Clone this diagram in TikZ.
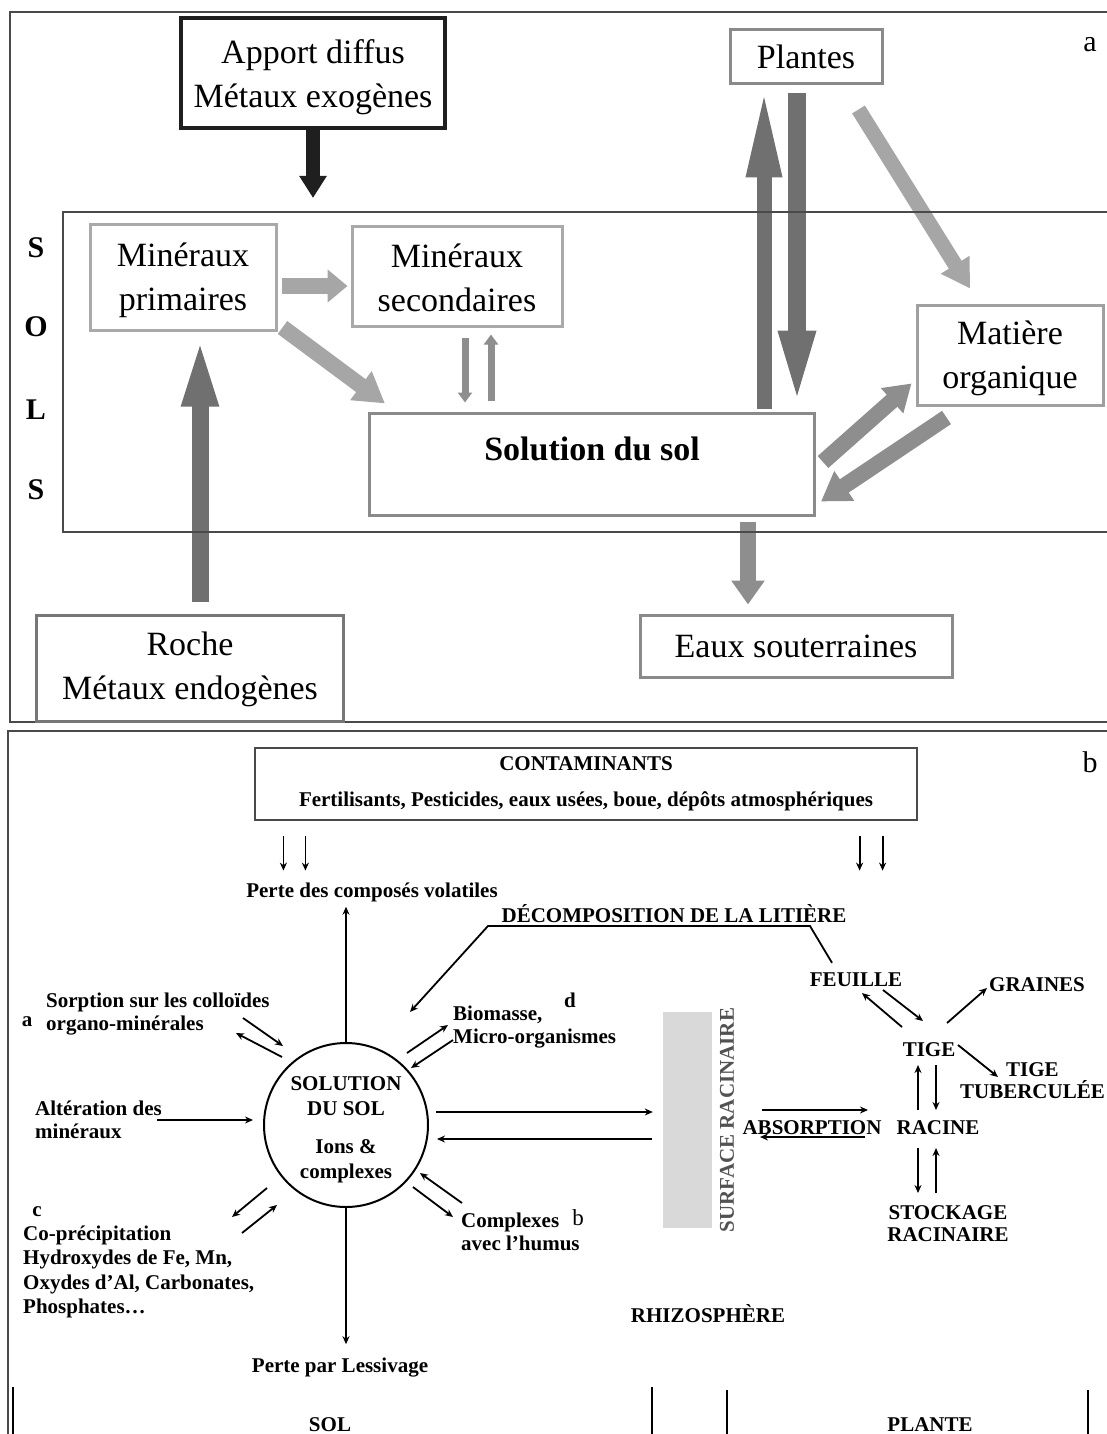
\documentclass[tikz,border=0pt]{standalone}
\usepackage{fontspec}
\setmainfont{Liberation Serif}
\usetikzlibrary{arrows.meta,calc}

\definecolor{lightarr}{HTML}{A6A6A6}
\definecolor{midarr}{HTML}{8E8E8E}
\definecolor{darkarr}{HTML}{707070}
\definecolor{framegray}{HTML}{4A4A4A}
\definecolor{barfill}{HTML}{D9D9D9}
\definecolor{edgelight}{HTML}{A9A9A9}
\definecolor{edgemat}{HTML}{A0A0A0}
\definecolor{edgemid}{HTML}{8A8A8A}
\definecolor{edgedark}{HTML}{777777}

\newcommand{\topgap}[1]{\rule{0pt}{#1}}

\tikzset{
  boxa/.style={draw=#1, line width=3pt, align=center, inner sep=0pt,
    font=\fontsize{34}{44}\selectfont},
  barrow/.style n args={4}{color=#1, line width=#2, -{Triangle[length=#3,width=#4]}},
  lbl/.style={font=\fontsize{21}{23.5}\selectfont\bfseries, inner sep=1pt},
  lblleft/.style={lbl, align=left, anchor=west},
  tarrow/.style={line width=1.8pt, -{Stealth[length=8pt,width=7pt]}},
  tag/.style={font=\fontsize{30}{30}\selectfont, inner sep=0pt}
}

\begin{document}
\begin{tikzpicture}[x=1pt,y=-1pt]
\useasboundingbox (0,0) rectangle (1107,1434);
\clip (0,0) rectangle (1107,1434);

% ---- a : sols
\draw[framegray, line width=1.5pt] (10,12) rectangle (1130,722);
\node[tag] (tagA) at (1090,45) {a};
\foreach \ch/\yy [count=\i] in {S/248,O/327,L/410,S/490}
  \node[tag, font=\fontsize{30}{30}\selectfont\bfseries] (sols\i) at (36,\yy) {\ch};

\node[boxa=black!88, line width=3.5pt, minimum width=264pt, minimum height=110pt] (apport) at (313,73) {\topgap{33pt}Apport diffus\\Métaux exogènes};
\node[boxa=edgelight, minimum width=186pt, minimum height=106pt] (prim) at (183,277) {\topgap{31pt}Minéraux\\primaires};
\node[boxa=edgelight, minimum width=210pt, minimum height=100pt] (sec) at (457,276) {\topgap{27pt}Minéraux\\secondaires};
\node[boxa=edgemid, minimum width=445pt, minimum height=102pt,
  font=\fontsize{34}{34}\selectfont\bfseries, text height=24pt, text depth=32pt] (sol) at (592,464) {Solution du sol};
\node[boxa=edgemid, minimum width=152pt, minimum height=54pt] (plantes) at (806,57) {Plantes};
\node[boxa=edgemat, minimum width=186pt, minimum height=100pt] (mat) at (1010,355) {\topgap{30pt}Matière\\organique};
\node[boxa=edgemid, minimum width=312pt, minimum height=62pt] (eaux) at (796,646) {Eaux souterraines};
\node[boxa=edgedark, minimum width=307pt, minimum height=106pt] (roche) at (190,668) {\topgap{27pt}Roche\\Métaux endogènes};

\coordinate (apin) at (313,198);
\draw[barrow={black!88}{14pt}{22pt}{26pt}] (apport.south) -- (apin);
\draw[barrow={lightarr}{16pt}{20pt}{32pt}] ($(prim.east)+(4,9)$) -- ($(sec.west)+(-3,10)$);
\draw[barrow={lightarr}{16pt}{30pt}{34pt}] ($(prim.south east)+(5,-4)$) -- ($(sol.north west)+(17,-8)$);
\draw[barrow={midarr}{7pt}{10pt}{14pt}] ($(sec.south)+(8,10)$) -- ($(sol.north)+(-127,-9)$);
\draw[barrow={midarr}{7pt}{10pt}{14pt}] ($(sol.north)+(-101,-11)$) -- ($(sec.south)+(34,7)$);
\draw[barrow={darkarr}{15pt}{90pt}{32pt}] ($(sol.north)+(172,-3)$) -- ($(plantes.south)+(-42,2)$);
\draw[barrow={darkarr}{18pt}{80pt}{32pt}] ($(plantes.south)+(-9,8)$) -- ($(sol.north)+(205,-1)$);
\draw[barrow={lightarr}{15pt}{28pt}{32pt}] ($(plantes.south east)+(-25,24)$) -- ($(mat.north)+(-40,-15)$);
\draw[barrow={midarr}{16pt}{26pt}{32pt}] ($(sol.east)+(7,-2)$) -- ($(mat.south west)+(-4,-23)$);
\draw[barrow={midarr}{16pt}{28pt}{34pt}] ($(mat.south west)+(31,11)$) -- ($(sol.south east)+(5,-15)$);
\draw[barrow={midarr}{16pt}{24pt}{32pt}] ($(sol.south)+(156,5)$) -- ($(eaux.north)+(-48,-9)$);
\draw[barrow={darkarr}{17pt}{72pt}{32pt}] ($(roche.north)+(10,-12)$) -- ($(prim.south)+(17,3)$);

\draw[framegray, line width=1.5pt] (63,212) rectangle (1130,532);

% ---- b : transferts sol-plante
\draw[framegray, line width=1.5pt] (8,731) rectangle (1130,1460);
\node[tag] (tagB) at (1090,762) {b};

\node[draw=framegray, line width=1.2pt, minimum width=662pt, minimum height=72pt, inner sep=0pt,
  align=center, font=\fontsize{21}{23.5}\selectfont\bfseries] (contam) at (586,784)
  {CONTAMINANTS\\[12.5pt]Fertilisants, Pesticides, eaux usées, boue, dépôts atmosphériques};

\node[draw, circle, line width=2pt, minimum size=164pt, inner sep=0pt, align=center,
  font=\fontsize{21}{25}\selectfont\bfseries] (circ) at (346,1125) {\topgap{24pt}SOLUTION\\DU SOL\\[13pt]Ions \&\\complexes};

\node[lbl] (volat) at (372,892) {Perte des composés volatiles};
\node[lbl] (decomp) at (674,914) {DÉCOMPOSITION DE LA LITIÈRE};
\node[lbl] (feuille) at (856,980) {FEUILLE};
\node[lbl] (graines) at (1037,985) {GRAINES};
\node[lbl] (tige) at (929,1050) {TIGE};
\node[lbl, align=center, anchor=east, font=\fontsize{21}{22}\selectfont\bfseries] (tigetub) at (1106,1081) {TIGE\\TUBERCULÉE};
\node[lbl] (racine) at (938,1128) {RACINE};
\node[lbl, align=center, font=\fontsize{21}{22}\selectfont\bfseries] (stock) at (948,1224) {STOCKAGE\\RACINAIRE};
\node[lbl] (absorp) at (812,1128) {ABSORPTION};

\node[lblleft] (sorp) at (45,1014) {Sorption sur les colloïdes\\organo-minérales};
\node[lbl] (tagsa) at (27,1022) {a};
\node[lblleft] (alter) at (34,1120) {Altération des\\minéraux};
\node[lbl] (tagsc) at (37,1212) {c};
\node[lblleft, font=\fontsize{21}{24.5}\selectfont\bfseries] (copre) at (22,1272)
  {Co-précipitation\\Hydroxydes de Fe, Mn,\\Oxydes d’Al, Carbonates,\\Phosphates…};
\node[lblleft] (biom) at (452,1027) {Biomasse,\\Micro-organismes};
\node[lbl] (tagsd) at (570,1000) {d};
\node[lblleft] (compl) at (460,1232) {Complexes\\avec l’humus};
\node[lbl, font=\fontsize{23}{23}\selectfont] (tagsb) at (578,1218) {b};
\node[lbl] (lessiv) at (340,1368) {Perte par Lessivage};
\node[lbl] (rhizo) at (708,1314) {RHIZOSPHÈRE};
\node[lbl] (solcol) at (330,1425) {SOL};
\node[lbl] (plantecol) at (930,1425) {PLANTE};

\node[fill=barfill, minimum width=49pt, minimum height=216pt, inner sep=0pt] (surfbar) at (687.5,1120) {};
\node[lbl, rotate=90, text=black!68] (surftext) at (727,1120) {SURFACE RACINAIRE};

% apports
\foreach \dx in {29,51}
  \draw[tarrow] ($(contam.south west)+(\dx,15)$) -- ++(0,35);
\foreach \dx in {-58,-35}
  \draw[tarrow] ($(contam.south east)+(\dx,15)$) -- ++(0,35);

\draw[tarrow] (circ.north) -- ([yshift=-4pt]circ.north |- volat.south);
\draw[tarrow] (circ.south) -- ([yshift=13pt]circ.south |- lessiv.north);

\coordinate (litA) at (810,926);
\coordinate (litB) at (488,926);
\draw[tarrow] ($(feuille.north)+(-24,-9)$) -- (litA) -- (litB) -- ($(circ)+(64,-113)$);

% echanges autour de la solution
\draw[tarrow] ($(circ)+(-103,-107)$) -- ($(circ)+(-63,-79)$);
\draw[tarrow] ($(circ)+(-64,-68)$) -- ($(circ)+(-110,-92)$);
\draw[tarrow] ($(circ)+(-189,-5)$) -- ($(circ)+(-93,-5)$);
\draw[tarrow] ($(circ)+(61,-72)$) -- ($(circ)+(102,-100)$);
\draw[tarrow] ($(circ)+(107,-85)$) -- ($(circ)+(65,-57)$);
\draw[tarrow] ($(circ)+(116,78)$) -- ($(circ)+(74,48)$);
\draw[tarrow] ($(circ)+(67,62)$) -- ($(circ)+(107,92)$);
\draw[tarrow] ($(circ)+(-79,63)$) -- ($(circ)+(-114,92)$);
\draw[tarrow] ($(circ)+(-104,108)$) -- ($(circ)+(-69,80)$);
\draw[tarrow] ($(circ)+(90,-13)$) -- ($(surfbar.west)+(-10,-8)$);
\draw[tarrow] ($(surfbar.west)+(-11,19)$) -- ($(circ)+(91,14)$);

% plante
\draw[tarrow] ($(absorp)+(-50,-18)$) -- ($(absorp)+(56,-18)$);
\draw[tarrow] ($(absorp)+(53,9)$) -- ($(absorp)+(-52,9)$);
\draw[tarrow] ($(tige)+(-11,60)$) -- ($(tige)+(-11,15)$);
\draw[tarrow] ($(tige)+(7,15)$) -- ($(tige)+(7,60)$);
\draw[tarrow] ($(racine)+(-20,20)$) -- ($(racine)+(-20,65)$);
\draw[tarrow] ($(racine)+(-2,65)$) -- ($(racine)+(-2,20)$);
\draw[tarrow] ($(tige)+(-27,-23)$) -- ($(tige)+(-67,-57)$);
\draw[tarrow] ($(tige)+(-46,-60)$) -- ($(tige)+(-6,-29)$);
\draw[tarrow] ($(tige)+(18,-27)$) -- ($(tige)+(58,-62)$);
\draw[tarrow] ($(tige)+(29,-5)$) -- ($(tige)+(69,27)$);

% colonnes
\draw[line width=1.5pt] (13,1387) -- (13,1440);
\draw[line width=1.5pt] (652,1387) -- (652,1440);
\draw[line width=1.5pt] (727,1390) -- (727,1440);
\draw[line width=1.5pt] (1088,1390) -- (1088,1440);
\end{tikzpicture}
\end{document}
